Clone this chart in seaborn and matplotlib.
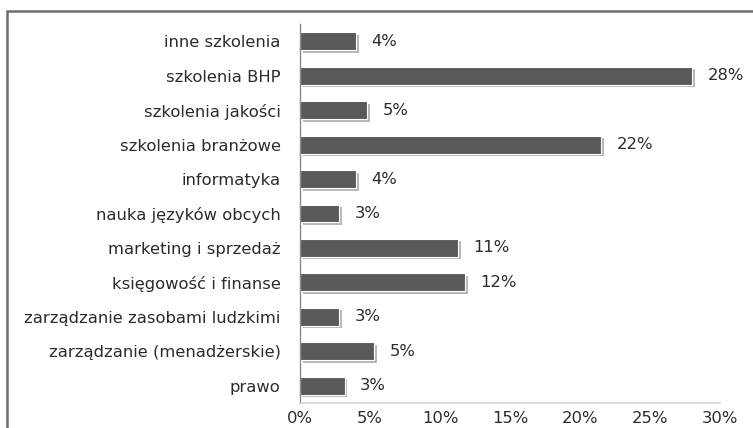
import matplotlib
matplotlib.use("Agg")
import matplotlib.pyplot as plt
import matplotlib.patheffects as pe
from matplotlib.patches import Rectangle
from matplotlib.ticker import PercentFormatter
import seaborn as sns
import pandas as pd

# categories, top to bottom
categories = [
    "inne szkolenia",
    "szkolenia BHP",
    "szkolenia jakości",
    "szkolenia branżowe",
    "informatyka",
    "nauka języków obcych",
    "marketing i sprzedaż",
    "księgowość i finanse",
    "zarządzanie zasobami ludzkimi",
    "zarządzanie (menadżerskie)",
    "prawo",
]
shares = [4.0, 28.0, 4.8, 21.5, 4.0, 2.8, 11.3, 11.8, 2.8, 5.3, 3.2]
value_labels = ["4%", "28%", "5%", "22%", "4%", "3%", "11%", "12%", "3%", "5%", "3%"]
x_ticks = [0, 5, 10, 15, 20, 25, 30]

df = pd.DataFrame({"kategoria": categories, "udzial": shares})

sns.set_style("white")
plt.rcParams["font.family"] = ["DejaVu Sans"]
text_color = "#2b2b2b"
fs = 11.8

fig = plt.figure(figsize=(7.53, 4.28), dpi=100)
ax = fig.add_axes([300 / 753, 25 / 428, 420 / 753, 379 / 428])

sns.barplot(data=df, x="udzial", y="kategoria", order=categories,
            color="#595959", width=0.52, saturation=1, ax=ax,
            edgecolor="white", linewidth=0.8)

# light drop shadow like the office chart
for bar in ax.patches:
    bar.set_path_effects([pe.SimplePatchShadow(offset=(1.8, -1.8),
                                               shadow_rgbFace="#b0b0b0", alpha=0.9),
                          pe.Normal()])

for i, (v, lab) in enumerate(zip(shares, value_labels)):
    ax.annotate(lab, xy=(v, i), xytext=(11, 0), textcoords="offset points",
                ha="left", va="center", fontsize=fs, color=text_color)

ax.set_xlim(0, 30)
ax.set_ylim(10.5, -0.5)
ax.set_xticks(x_ticks)
ax.xaxis.set_major_formatter(PercentFormatter(decimals=0))
ax.set_xlabel("")
ax.set_ylabel("")
ax.tick_params(axis="y", length=0, pad=14, labelsize=fs, labelcolor=text_color)
ax.tick_params(axis="x", length=0, pad=5.5, labelsize=fs, labelcolor=text_color)

for side in ["top", "right"]:
    ax.spines[side].set_visible(False)
ax.spines["left"].set_color("#8a8a8a")
ax.spines["left"].set_linewidth(1.0)
ax.spines["bottom"].set_color("#d4d4d4")
ax.spines["bottom"].set_linewidth(1.2)

# outer frame, cut off at right and bottom
fig.add_artist(Rectangle((7 / 753, -0.1), 1.2, 1.1 - 11.5 / 428,
                         transform=fig.transFigure, fill=False,
                         edgecolor="#6b6b6b", linewidth=1.8))

fig.savefig("out.png", dpi=100)
